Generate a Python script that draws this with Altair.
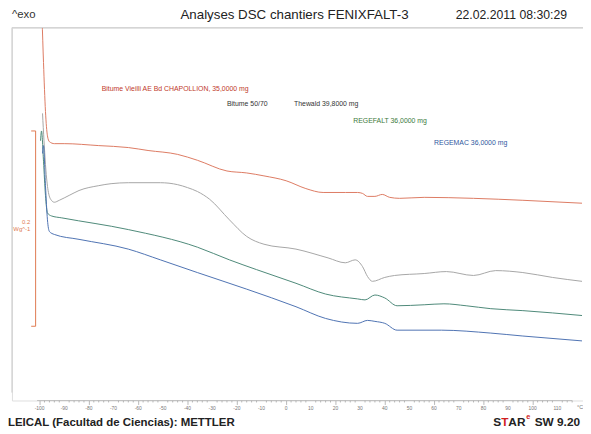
import altair as alt
import pandas as pd

# ---- data (temperature in °C, heat flow in mW/g, exo up) ----
t_vieilli = [-99, -98.4, -97.6, -96.8, -96, -94, -90, -76, -64, -56, -44, -36, -24, -16, -9,
             0, 8, 15, 24, 29, 31, 33, 36, 39, 42, 46, 56, 76, 96, 120]
f_vieilli = [389, 343, 293, 268, 262, 260, 260, 258, 256, 253, 249, 243, 232, 230, 227,
             222, 214, 210, 210, 210, 209, 206, 206, 208, 205, 204, 205, 204, 202, 199]

t_5070 = [-98.8, -98.2, -97.4, -96.4, -95.2, -94, -92, -88, -84, -76, -71, -64, -51, -44, -40,
          -36, -31, -23, -16, -9, 4, 17, 24, 28, 31, 33, 35, 40, 44, 56, 65, 76, 85, 96, 108, 120]
f_5070 = [291, 263, 232, 210, 202, 200, 202, 207, 212, 217, 219, 220, 220, 218, 215,
          211, 203, 182, 165, 157, 152, 143, 138, 141, 134, 124, 119, 123, 125, 127, 129, 125,
          130, 128, 123, 119]

t_regefalt = [-99.6, -99.2, -98.4, -97.6, -96.8, -95.2, -91, -64, -36, -23, -12, 4, 16, 29, 32,
              36, 40, 45, 56, 64, 73, 83, 96, 120]
f_regefalt = [263, 273, 242, 207, 189, 186, 184, 172, 154, 141, 131, 117, 106, 101, 100,
              105, 102, 94, 95, 96, 94, 91, 89, 84]

t_regemac = [-98.8, -98.4, -97.6, -96.8, -96, -94, -84, -64, -51, -36, -16, 4, 16, 29, 33,
             36, 40, 45, 63, 83, 96, 120]
f_regemac = [250, 258, 217, 182, 170, 167, 162, 152, 141, 128, 111, 93, 81, 76, 79,
             78, 76, 69, 69, 66, 63, 58]

series_names = ["Bitume Vieilli", "Bitume 50/70", "REGEFALT", "REGEMAC"]
series_colors = ["#dc7a62", "#a6a6a6", "#4c8878", "#4d72b2"]

major_ticks = list(range(-100, 111, 10))
major_labels = [str(v) for v in major_ticks]
minor_ticks = [v for v in range(-100, 117, 2) if v % 10 != 0]

rows = []
for name, ts, fs in zip(series_names,
                        [t_vieilli, t_5070, t_regefalt, t_regemac],
                        [f_vieilli, f_5070, f_regefalt, f_regemac]):
    for t, f in zip(ts, fs):
        rows.append({"serie": name, "T": t, "flux": f})
df = pd.DataFrame(rows)

W, H = 579, 378
FONT = "Liberation Sans"

xscale = alt.Scale(domain=[-111.2, 120.4], nice=False, zero=False)
yscale = alt.Scale(domain=[-3.03, 378.75], nice=False, zero=False)

xaxis = alt.Axis(
    values=major_ticks,
    tickSize=4,
    tickColor="#9a9a9a",
    tickWidth=0.7,
    domain=False,
    grid=False,
    labels=False,
    title=None,
)

lines = alt.Chart(df).mark_line(strokeWidth=1, clip=True, interpolate="monotone").encode(
    x=alt.X("T:Q", scale=xscale, axis=xaxis),
    y=alt.Y("flux:Q", scale=yscale, axis=None),
    color=alt.Color("serie:N", scale=alt.Scale(domain=series_names, range=series_colors), legend=None),
    detail="serie:N",
)

minor = alt.Chart(pd.DataFrame({"T": minor_ticks})).mark_rule(
    color="#9a9a9a", strokeWidth=0.7
).encode(x="T:Q", y=alt.value(H), y2=alt.value(H + 2))

tick_text = alt.Chart(pd.DataFrame({"T": major_ticks, "lab": major_labels})).mark_text(
    fontSize=5, color="#777777", font=FONT, baseline="middle", align="center"
).encode(x="T:Q", y=alt.value(H + 8), text="lab:N")

one = alt.Data(values=[{"k": 0}])


def rule_px(x, y, x2=None, y2=None, color="#cccccc", width=1):
    enc = {"x": alt.value(x), "y": alt.value(y)}
    if x2 is not None:
        enc["x2"] = alt.value(x2)
    if y2 is not None:
        enc["y2"] = alt.value(y2)
    return alt.Chart(one).mark_rule(color=color, strokeWidth=width).encode(**enc)


def text_px(txt, x, y, size, color="#222222", weight="normal", align="left", baseline="middle"):
    return alt.Chart(one).mark_text(
        text=txt, align=align, baseline=baseline, fontSize=size, color=color,
        font=FONT, fontWeight=weight,
    ).encode(x=alt.value(x), y=alt.value(y))


def text_data(txt, t, f, size, color, align="left"):
    return alt.Chart(one).mark_text(
        text=txt, align=align, baseline="middle", fontSize=size, color=color, font=FONT,
    ).encode(x=alt.datum(t), y=alt.datum(f))


# frame and axis baseline
frame_top = rule_px(0, 0, x2=W)
frame_left = rule_px(0, 0, y2=370)
baseline = alt.Chart(one).mark_rule(color="#b5b5b5", strokeWidth=0.8).encode(
    x=alt.datum(-101), x2=alt.datum(116), y=alt.value(H)
)

# 0.2 W/g scale bar
bar_color = "#e07a50"
bar = alt.Chart(one).mark_rule(color=bar_color, strokeWidth=1).encode(
    x=alt.datum(-101.6), y=alt.datum(73), y2=alt.datum(273)
)
bar_top = alt.Chart(one).mark_rule(color=bar_color, strokeWidth=1).encode(
    x=alt.datum(-103.4), x2=alt.datum(-101.6), y=alt.datum(273)
)
bar_bot = alt.Chart(one).mark_rule(color=bar_color, strokeWidth=1).encode(
    x=alt.datum(-103.4), x2=alt.datum(-101.6), y=alt.datum(73)
)

annotations = [
    text_data("Bitume Vieilli AE Bd CHAPOLLION, 35,0000 mg", -74.8, 316, 7, "#c0392b"),
    text_data("Bitume 50/70", -24, 301, 7, "#333333"),
    text_data("Thewald 39,8000 mg", 3.2, 301, 7, "#333333"),
    text_data("REGEFALT 36,0000 mg", 27.2, 283, 7, "#3c7a3c"),
    text_data("REGEMAC 36,0000 mg", 60, 261, 7, "#2f58a0"),
    text_data("0.2", -103.8, 180, 6, bar_color, align="right"),
    text_data("Wg^-1", -103.8, 173, 6, bar_color, align="right"),
    text_data("°C", 118, -10, 5.5, "#777777"),
    # header / footer (pixel positions relative to the plot area)
    text_px("^exo", 0, -13, 11.5, "#333333"),
    text_px("Analyses DSC chantiers FENIXFALT-3", 286.5, -13, 13.5, "#222222", align="center"),
    text_px("22.02.2011 08:30:29", 450, -13, 12.4, "#222222"),
    text_px("LEICAL (Facultad de Ciencias): METTLER", -4, 401, 11.6, "#222222", weight="bold"),
    text_px("S", 488, 400, 12, "#222222", weight="bold"),
    text_px("T", 496, 400, 12, "#d02020", weight="bold"),
    text_px("AR", 503.3, 400, 12, "#222222", weight="bold"),
    text_px("e", 521.5, 395, 7.5, "#d02020", weight="bold"),
    text_px("SW 9.20", 530, 400, 12, "#222222", weight="bold"),
]

chart = alt.layer(
    lines, minor, tick_text, frame_top, frame_left, baseline, bar, bar_top, bar_bot, *annotations
).properties(
    width=W, height=H,
    autosize="none",
    padding={"left": 4, "top": 17, "right": 0, "bottom": 31},
).configure_view(stroke=None).configure(background="white")

chart.save("out.html", embed_options={"renderer": "svg", "actions": False})
